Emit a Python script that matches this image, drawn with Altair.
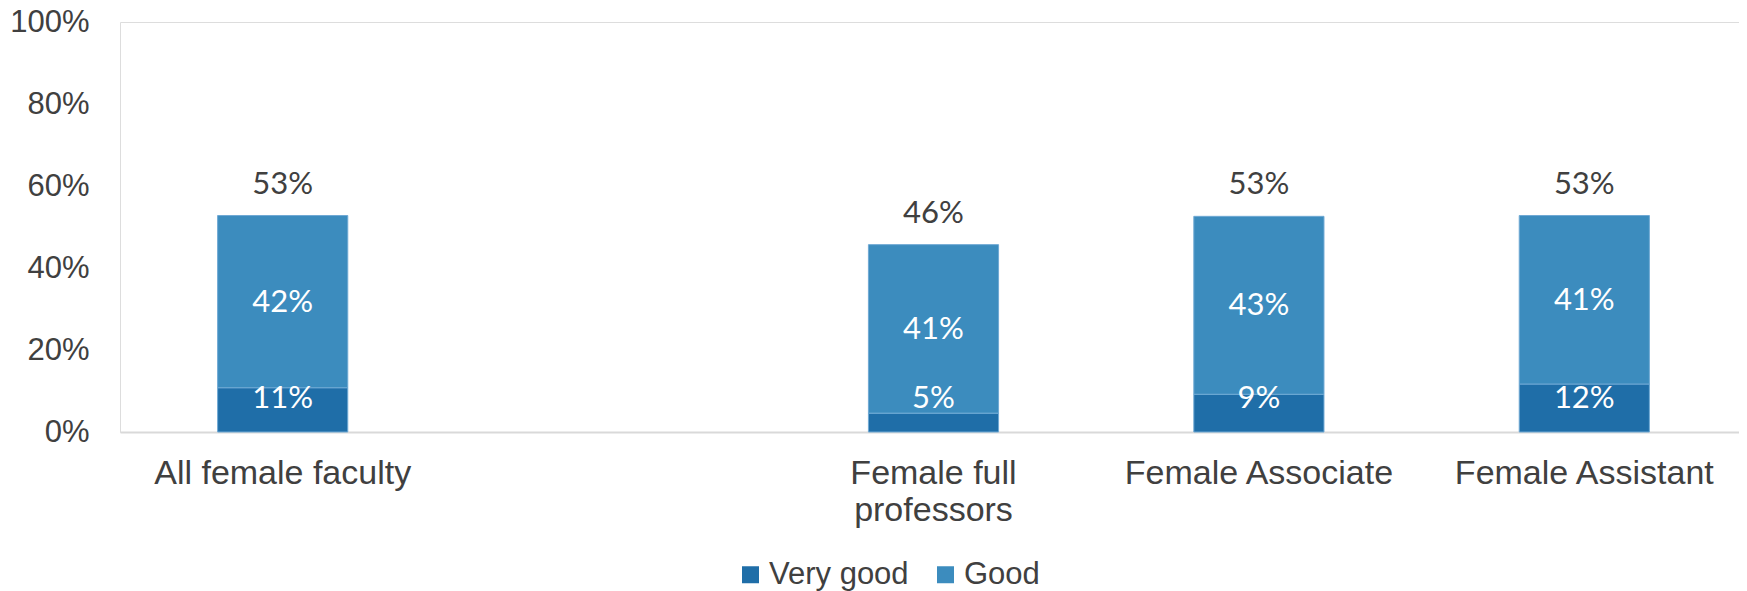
import altair as alt
import pandas as pd

# ---- data ----
categories = ["All female faculty", " ", "Female full professors", "Female Associate", "Female Assistant"]
groups = ["All female faculty", "Female full professors", "Female Associate", "Female Assistant"]
very_good = [10.8, 4.6, 9.2, 11.7]
good = [42.0, 41.1, 43.4, 41.1]
series = ["Very good", "Good"]
colors = ["#1f6ea8", "#3c8cbe"]
y_ticks = [0, 20, 40, 60, 80, 100]

def pct(v):
    return f"{int(v + 0.5)}%"

rows = []
for g, vg, gd in zip(groups, very_good, good):
    rows.append({"cat": g, "series": "Very good", "order": 0, "y0": 0.0, "y1": vg,
                 "mid": vg / 2, "lab": pct(vg)})
    rows.append({"cat": g, "series": "Good", "order": 1, "y0": vg, "y1": vg + gd,
                 "mid": vg + gd / 2, "lab": pct(gd)})
df = pd.DataFrame(rows)
tot = pd.DataFrame({"cat": groups,
                    "total": [a + b for a, b in zip(very_good, good)]})
tot["lab"] = [pct(v) for v in tot["total"]]

AX_FONT = "Liberation Sans"
LBL_FONT = "Lato"
TXT = "#404040"

x_scale = alt.Scale(domain=categories, paddingInner=0.6, paddingOuter=0.3, range=[0, 1627])

x_enc = alt.X(
    "cat:N",
    scale=x_scale,
    axis=alt.Axis(
        title=None, labelAngle=0, labelFont=AX_FONT, labelFontSize=34,
        labelColor=TXT, labelPadding=24, ticks=False, labelLimit=0,
        domainColor="#d9d9d9", domainWidth=2,
        labelExpr="datum.value == 'Female full professors' ? ['Female full', 'professors'] : datum.label",
        labelLineHeight=37, labelBaseline="top",
    ),
)
y_scale = alt.Scale(domain=[0, 100], nice=False)

bars = alt.Chart(df).mark_bar(stroke="#6fa9d4", strokeWidth=1).encode(
    x=x_enc,
    y=alt.Y(
        "y1:Q", scale=y_scale,
        axis=alt.Axis(
            title=None, values=y_ticks, labelExpr="datum.value + '%'",
            grid=False, domain=False, ticks=False, labelPadding=31,
            labelFont=AX_FONT, labelFontSize=31, labelColor=TXT,
        ),
    ),
    y2="y0:Q",
    color=alt.Color(
        "series:N",
        scale=alt.Scale(domain=series, range=colors),
        legend=alt.Legend(
            title=None, orient="none", legendX=615, legendY=537,
            direction="horizontal", symbolType="square", symbolSize=289,
            symbolStrokeWidth=0, labelFont=AX_FONT, labelFontSize=31,
            labelColor=TXT, columnPadding=21, labelOffset=3,
        ),
    ),
    order=alt.Order("order:Q"),
)

good_labels = alt.Chart(df).transform_filter(
    alt.datum.series == "Good"
).mark_text(font=LBL_FONT, fontSize=31, color="white", baseline="middle", dy=1).encode(
    x=alt.X("cat:N", scale=x_scale),
    y=alt.Y("mid:Q", scale=y_scale),
    text="lab:N",
)

vg_labels = alt.Chart(df).transform_filter(
    alt.datum.series == "Very good"
).mark_text(font=LBL_FONT, fontSize=31, color="white", baseline="middle", dy=-33).encode(
    x=alt.X("cat:N", scale=x_scale),
    y=alt.Y("y0:Q", scale=y_scale),
    text="lab:N",
)

tot_labels = alt.Chart(tot).mark_text(
    font=LBL_FONT, fontSize=31, color=TXT, baseline="alphabetic", dy=-22
).encode(
    x=alt.X("cat:N", scale=x_scale),
    y=alt.Y("total:Q", scale=y_scale),
    text="lab:N",
)

chart = alt.layer(bars, good_labels, vg_labels, tot_labels).properties(
    width=1619, height=410,
    autosize=alt.AutoSizeParams(type="none"),
    padding={"left": 112, "top": 14, "right": 0, "bottom": 159},
).configure_view(stroke=None).configure(background="white")

chart.save("out.html", embed_options={"renderer": "svg", "actions": False})
